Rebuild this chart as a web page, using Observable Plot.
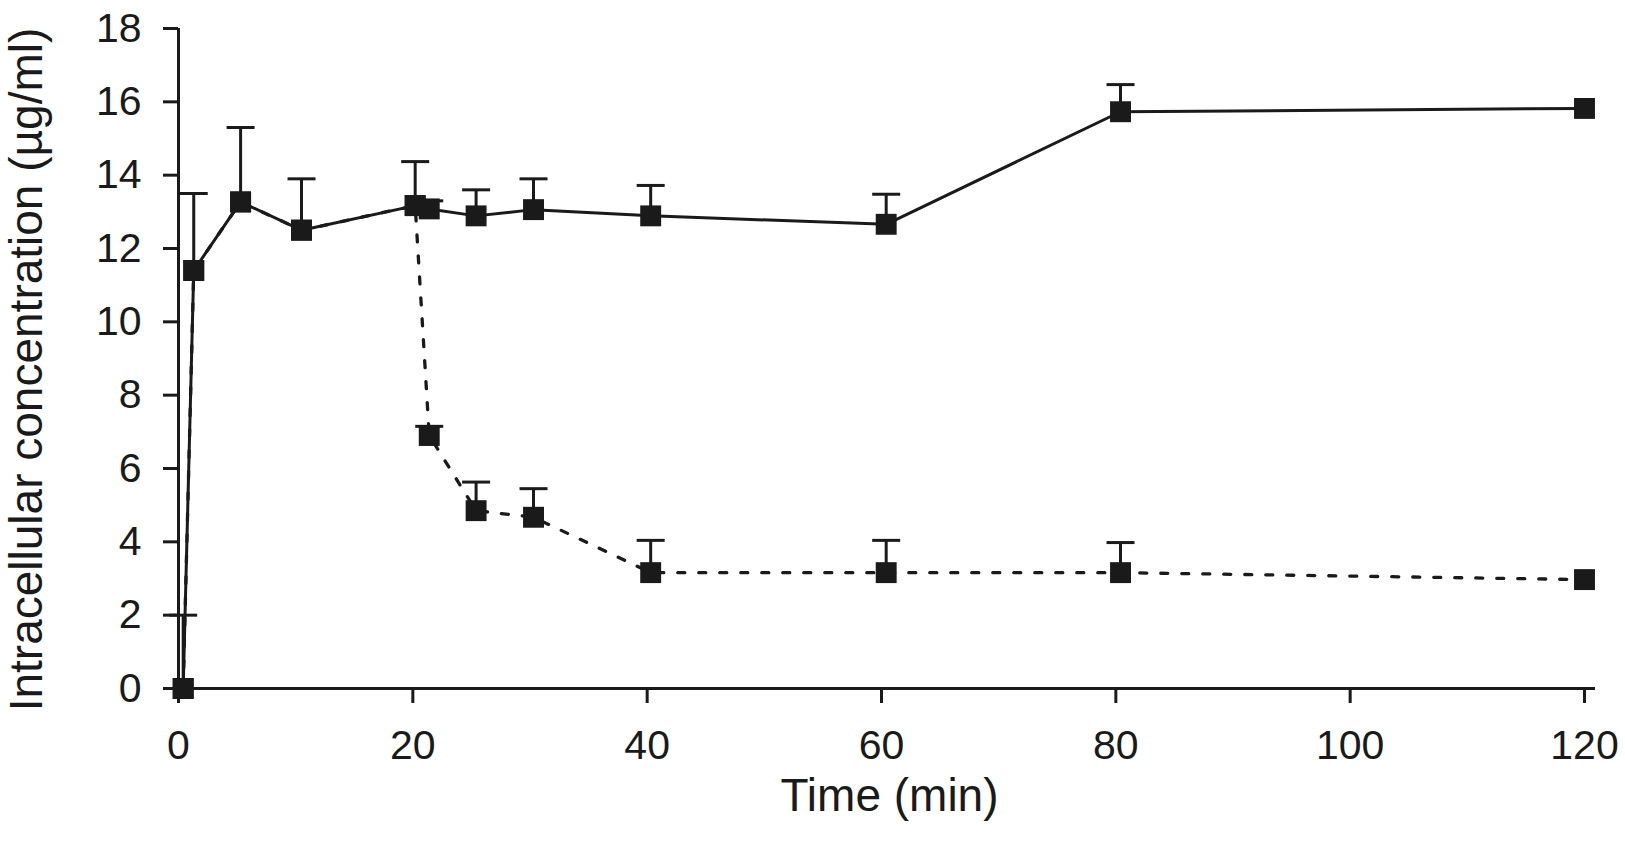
<!DOCTYPE html>
<html>
<head>
<meta charset="utf-8">
<script src="https://cdn.jsdelivr.net/npm/d3@7"></script>
<script src="https://cdn.jsdelivr.net/npm/@observablehq/plot@0.6"></script>
<style>
  body { margin: 0; background: #fff; }
</style>
</head>
<body>
<div id="chart"></div>
<script>
// sampling times (min)
var times = [0.4, 1.3, 5.3, 10.5, 20.2, 21.4, 25.4, 30.3, 40.3, 60.4, 80.4, 120]

// solid line: continuous exposure
var solidMean = [0, 11.4, 13.27, 12.5, 13.17, 13.08, 12.89, 13.06, 12.89, 12.66, 15.73, 15.82]
var solidSD   = [2.0, 2.1, 2.03, 1.4, 1.2, 0.22, 0.71, 0.84, 0.83, 0.82, 0.74, 0]

// dotted line: drug removed after 20 min
var dottedMean = [0, 11.4, 13.27, 12.5, 13.17, 6.9, 4.85, 4.67, 3.16, 3.16, 3.16, 2.97]
var dottedSD   = [0, 0, 0, 0, 0, 0.25, 0.78, 0.78, 0.88, 0.88, 0.82, 0]

var xTicks = [0, 20, 40, 60, 80, 100, 120]
var yTicks = [0, 2, 4, 6, 8, 10, 12, 14, 16, 18]

var xLabel = "Time (min)"
var yLabel = "Intracellular concentration (µg/ml)"

var ink = "#1a1a1a"

var solid = times.map((t, i) => ({t: t, v: solidMean[i], sd: solidSD[i]}))
var dotted = times.map((t, i) => ({t: t, v: dottedMean[i], sd: dottedSD[i]}))
var bars = solid.concat(dotted).filter(d => d.sd > 0)

// horizontal cap on top of each error bar
var cap = {
  draw(ctx) {
    ctx.moveTo(-14, 0)
    ctx.lineTo(14, 0)
  }
}

var chart = Plot.plot({
  width: 1625,
  height: 854,
  marginLeft: 178,
  marginRight: 41,
  marginTop: 28,
  marginBottom: 166,
  style: {
    fontFamily: "'Liberation Sans', Arial, sans-serif",
    fontSize: "41px",
    color: ink,
    background: "#fff"
  },
  x: {domain: [0, 120]},
  y: {domain: [0, 18]},
  marks: [
    Plot.axisX({ticks: xTicks, tickSize: 15, tickPadding: 26, strokeWidth: 3, label: null, fontSize: 41}),
    Plot.axisY({ticks: yTicks, tickSize: 15, tickPadding: 22, strokeWidth: 3, label: null, fontSize: 41}),
    Plot.ruleX([0], {stroke: ink, strokeWidth: 3}),
    Plot.ruleY([0], {stroke: ink, strokeWidth: 3, insetRight: -11}),

    Plot.line(dotted, {x: "t", y: "v", stroke: ink, strokeWidth: 3.3, strokeDasharray: "7,14"}),
    Plot.line(solid, {x: "t", y: "v", stroke: ink, strokeWidth: 3}),

    Plot.ruleX(bars, {x: "t", y1: "v", y2: d => d.v + d.sd, stroke: ink, strokeWidth: 3}),
    Plot.dot(bars, {x: "t", y: d => d.v + d.sd, symbol: cap, r: 5, fill: "none", stroke: ink, strokeWidth: 3}),

    Plot.dot(dotted, {x: "t", y: "v", symbol: "square", r: 11.8, fill: ink, stroke: "none"}),
    Plot.dot(solid, {x: "t", y: "v", symbol: "square", r: 11.8, fill: ink, stroke: "none"}),

    Plot.text([xLabel], {text: d => d, frameAnchor: "bottom", dx: 8, dy: 108, fontSize: 46, lineAnchor: "middle", fill: ink}),
    Plot.text([yLabel], {text: d => d, frameAnchor: "left", dx: -151, dy: 11, rotate: -90, fontSize: 46, textAnchor: "middle", lineAnchor: "middle", fill: ink})
  ]
})

d3.select("#chart").append(() => chart)
</script>
</body>
</html>
